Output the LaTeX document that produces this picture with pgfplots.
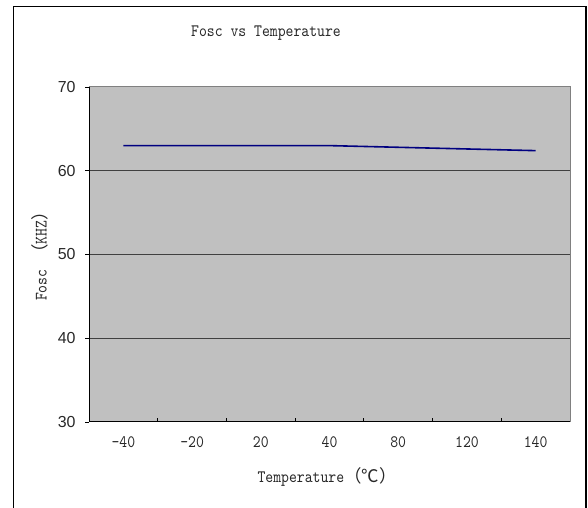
\documentclass[border=0pt]{standalone}
\usepackage{fontspec}
\usepackage{pgfplots}
\pgfplotsset{compat=1.18}
\newfontfamily\ysans{Liberation Sans}
\newfontfamily\cjk{Noto Sans CJK SC}
\newfontfamily\simmono[Extension=.otf, FakeStretch=0.86]{lmmono10-regular}
\definecolor{plotgray}{RGB}{192,192,192}
\definecolor{framegray}{RGB}{128,128,128}
\definecolor{linenavy}{RGB}{0,0,128}
\definecolor{txt}{RGB}{40,40,40}
\newcommand{\monofs}{\simmono\fontsize{17.5}{20}\selectfont\color{txt}}

\begin{document}
\begin{tikzpicture}[x=1bp,y=1bp]
\path[use as bounding box] (0,0) rectangle (588,508);
% outer chart frame (bottom edge cut off in the reference)
\draw[line width=1.6bp] (13.5,-2) -- (13.5,501.5) -- (586,501.5) -- (586,-2);
\begin{axis}[
    at={(89bp,86bp)}, anchor=south west,
    scale only axis,
    width=481bp, height=335bp,
    xmin=-0.5, xmax=6.5,
    ymin=30, ymax=70,
    xtick={0,...,6},
    xticklabels={-40,-20,20,40,80,120,140},
    minor xtick={0.5,1.5,...,5.5},
    major x tick style={draw=none},
    minor x tick style={black, line width=0.8bp},
    minor tick length=4bp,
    ytick={30,40,...,70},
    y tick style={black, line width=0.8bp},
    major tick length=4bp,
    xtick align=inside,
    ytick align=outside,
    xtick pos=bottom, ytick pos=left,
    extra y ticks={40,50,60},
    extra y tick labels={},
    extra y tick style={grid=major, major tick length=0pt},
    grid style={draw=black!75, line width=0.9bp},
    axis background/.style={fill=plotgray},
    axis line style={draw=framegray, line width=1bp},
    x tick label style={font=\monofs, yshift=-11bp},
    y tick label style={font=\ysans\fontsize{16}{18}\selectfont\color{txt}, xshift=-6bp},
    /pgf/number format/assume math mode=true,
]
\addplot[linenavy, line width=1.6bp] coordinates {
    (0,63.0) (1,63.0) (2,63.0) (3,63.0) (4,62.8) (5,62.6) (6,62.4)
};
\draw[black, line width=1bp] (rel axis cs:0,1) -- (rel axis cs:0,0) -- (rel axis cs:1,0);
\end{axis}
\node[font=\monofs] at (266,475) {Fosc vs Temperature};
\node[font=\monofs, rotate=90] at (40,256) {Fosc {\cjk （}KHZ{\cjk ）}};
\node[font=\monofs] at (327,31) {Temperature{\cjk （℃）}};
\end{tikzpicture}
\end{document}
